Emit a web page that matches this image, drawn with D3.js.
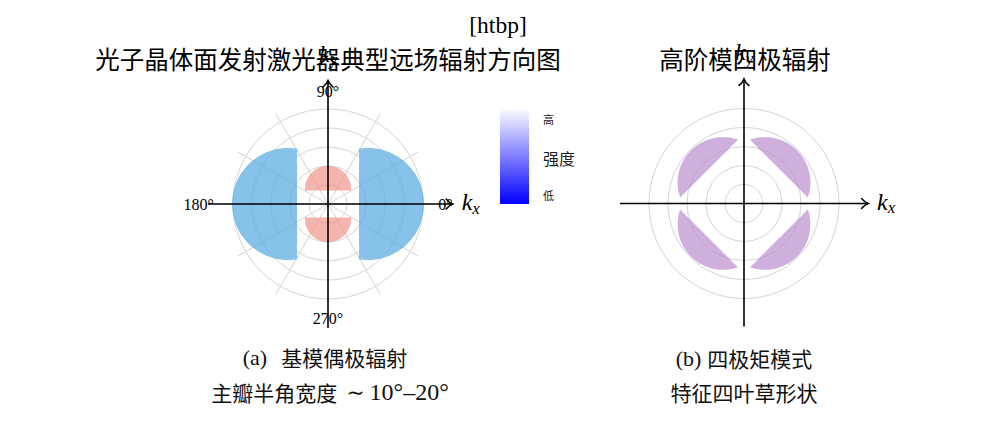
<!DOCTYPE html>
<html><head><meta charset="utf-8">
<script src="https://cdn.jsdelivr.net/npm/d3@7"></script>
<style>
html,body{margin:0;padding:0;background:#fff;}
svg{display:block;}
</style></head>
<body>
<svg id="c" width="998" height="422"></svg>
<script>
// ---- data ----
const gridRadii = [1, 2, 3, 4, 5];
const spokeAngles = [0, 30, 60, 90, 120, 150, 180, 210, 240, 270, 300, 330];
const angleTickValues = [0, 90, 180, 270];
const angleTickLabels = ["0°", "90°", "180°", "270°"];
// lobes: direction (deg), centre offset, radius, cut distance (grid units)
const mainLobes = [
  {dir: 0,   offset: 2.1, radius: 2.95, cut: 1.63},
  {dir: 180, offset: 2.1, radius: 2.95, cut: 1.63}
];
const sideLobes = [
  {dir: 90,  offset: 0.79, radius: 1.21, cut: 0.71},
  {dir: 270, offset: 0.79, radius: 1.21, cut: 0.71}
];
const quadLobes = [
  {dir: 45,  offset: 1.56, radius: 2.39, cut: 2.6},
  {dir: 135, offset: 1.56, radius: 2.39, cut: 2.6},
  {dir: 225, offset: 1.56, radius: 2.39, cut: 2.6},
  {dir: 315, offset: 1.56, radius: 2.39, cut: 2.6}
];
const colorbarLabels = ["高", "强度", "低"];
const titles = ["光子晶体面发射激光器典型远场辐射方向图", "高阶模四极辐射"];
// caption runs: [text, isLatin, extra dx]
const captions = [
  [[["(a)", true, 0], ["基模偶极辐射", false, 14]],
   [["主瓣半角宽度", false, 0], ["∼", true, 9], ["10°–20°", true, 5]]],
  [[["(b)", true, 0], ["四极矩模式", false, 6]],
   [["特征四叶草形状", false, 0]]]
];

// ---- drawing ----
const svg = d3.select("#c");
const serif = "'Liberation Serif','DejaVu Serif',serif";
const cjk = "'Noto Sans CJK SC','Noto Sans',sans-serif";
const rad = d => d * Math.PI / 180;

const defs = svg.append("defs");
defs.append("marker").attr("id", "arr").attr("markerUnits", "userSpaceOnUse")
  .attr("viewBox", "-8 -6 10 12").attr("refX", 0).attr("refY", 0)
  .attr("markerWidth", 10).attr("markerHeight", 12).attr("orient", "auto")
  .append("path").attr("d", "M-6.5,-5 C-4,-2 -1.2,-0.4 0,0 C-1.2,0.4 -4,2 -6.5,5")
  .attr("fill", "none").attr("stroke", "#000").attr("stroke-width", 1.5)
  .attr("stroke-linecap", "round");
const grad = defs.append("linearGradient").attr("id", "cb")
  .attr("x1", 0).attr("y1", 0).attr("x2", 0).attr("y2", 1);
grad.append("stop").attr("offset", "0%").attr("stop-color", "#ffffff");
grad.append("stop").attr("offset", "100%").attr("stop-color", "#0000ff");

svg.append("text").attr("x", 498).attr("y", 33).attr("text-anchor", "middle")
  .attr("font-family", serif).attr("font-size", 23.5).text("[htbp]");

function makePanel(cx, cy, opts) {
  const x = d3.scaleLinear().domain([-5, 5]).range([cx - 95, cx + 95]);
  const y = d3.scaleLinear().domain([-5, 5]).range([cy + 95, cy - 95]);
  const g = svg.append("g");
  g.selectAll("circle.grid").data(gridRadii).join("circle")
    .attr("cx", x(0)).attr("cy", y(0)).attr("r", d => x(d) - x(0))
    .attr("fill", "none").attr("stroke", "#d4d4d4").attr("stroke-width", 1);
  if (opts.spokes) {
    g.selectAll("line.spoke").data(spokeAngles).join("line")
      .attr("x1", x(0)).attr("y1", y(0))
      .attr("x2", d => x(5.5 * Math.cos(rad(d))))
      .attr("y2", d => y(5.5 * Math.sin(rad(d))))
      .attr("stroke", "#d4d4d4").attr("stroke-width", 1);
  }
  const line = d3.line().x(p => x(p[0])).y(p => y(p[1]));
  function lobe(l) {
    const u = rad(l.dir);
    const c = [l.offset * Math.cos(u), l.offset * Math.sin(u)];
    const a = Math.acos((l.cut - l.offset) / l.radius);
    const pts = d3.range(0, 181).map(i => {
      const t = u - a + 2 * a * i / 180;
      return [c[0] + l.radius * Math.cos(t), c[1] + l.radius * Math.sin(t)];
    });
    return line(pts) + "Z";
  }
  opts.lobes.forEach(set => {
    g.selectAll(null).data(set.data).join("path")
      .attr("d", lobe).attr("fill", set.color).attr("fill-opacity", set.opacity);
  });
  g.append("line").attr("x1", x(opts.hx[0])).attr("x2", x(opts.hx[1]))
    .attr("y1", y(0)).attr("y2", y(0)).attr("stroke", "#000").attr("stroke-width", 1.6)
    .attr("marker-end", "url(#arr)");
  g.append("line").attr("x1", x(0)).attr("x2", x(0))
    .attr("y1", y(opts.vy[0])).attr("y2", y(opts.vy[1])).attr("stroke", "#000").attr("stroke-width", 1.6)
    .attr("marker-end", "url(#arr)");
  const kx = g.append("text").attr("x", x(opts.hx[1]) + 9).attr("y", y(0) + 6)
    .attr("font-family", serif).attr("font-size", 24);
  kx.append("tspan").attr("font-style", "italic").text("k");
  kx.append("tspan").attr("font-style", "italic").attr("font-size", 17).attr("dy", 3.5).text("x");
  const ky = g.append("text").attr("x", x(0) - 9).attr("y", y(opts.vy[1]) - 19)
    .attr("font-family", serif).attr("font-size", 24);
  ky.append("tspan").attr("font-style", "italic").text("k");
  ky.append("tspan").attr("font-style", "italic").attr("font-size", 17).attr("dy", 3.5).text("y");
  if (opts.angleLabels) {
    const off = [[6.18, 0], [0, 5.9], [-6.8, 0], [0, -6.05]];
    g.selectAll("text.ang").data(angleTickValues).join("text")
      .attr("x", (d, i) => x(off[i][0]))
      .attr("y", (d, i) => y(off[i][1]))
      .attr("text-anchor", "middle").attr("dominant-baseline", "central")
      .attr("font-family", serif).attr("font-size", 16)
      .text((d, i) => angleTickLabels[i]);
  }
  return {x, y};
}

makePanel(328, 204, {
  spokes: true, angleLabels: true,
  hx: [-6.32, 6.56], vy: [-6.53, 6.5],
  lobes: [
    {data: mainLobes, color: "#5dade2", opacity: 0.75},
    {data: sideLobes, color: "#f1948a", opacity: 0.7}
  ]
});
makePanel(744, 203.5, {
  spokes: false, angleLabels: false,
  hx: [-6.53, 6.53], vy: [-6.47, 6.55],
  lobes: [{data: quadLobes, color: "#bb8fce", opacity: 0.7}]
});

// colorbar
svg.append("rect").attr("x", 500).attr("y", 108).attr("width", 29).attr("height", 96)
  .attr("fill", "url(#cb)");
const cbPos = [[543, 119, 11], [543, 157.5, 16], [543, 194.5, 11]];
svg.selectAll("text.cb").data(colorbarLabels).join("text")
  .attr("x", (d, i) => cbPos[i][0]).attr("y", (d, i) => cbPos[i][1])
  .attr("dominant-baseline", "central").attr("font-family", cjk)
  .attr("font-size", (d, i) => cbPos[i][2]).attr("fill", "#222").text(d => d);

// titles
const titlePos = [328, 745];
svg.selectAll("text.title").data(titles).join("text")
  .attr("x", (d, i) => titlePos[i]).attr("y", 58)
  .attr("text-anchor", "middle").attr("dominant-baseline", "central")
  .attr("font-family", cjk).attr("font-size", 24.5).attr("fill", "#000").text(d => d);

// captions
const capPos = [[[325, 357], [330, 391.5]], [[744, 358], [744, 391.5]]];
captions.forEach((lines, j) => {
  lines.forEach((runs, k) => {
    const t = svg.append("text").attr("x", capPos[j][k][0]).attr("y", capPos[j][k][1])
      .attr("text-anchor", "middle").attr("dominant-baseline", "central").attr("fill", "#111");
    runs.forEach(r => {
      t.append("tspan").attr("dx", r[2])
        .attr("font-family", r[1] ? serif : cjk)
        .attr("font-size", r[1] ? (r[0].length > 3 ? 24 : 22) : 21)
        .text(r[0]);
    });
  });
});
</script>
</body></html>
